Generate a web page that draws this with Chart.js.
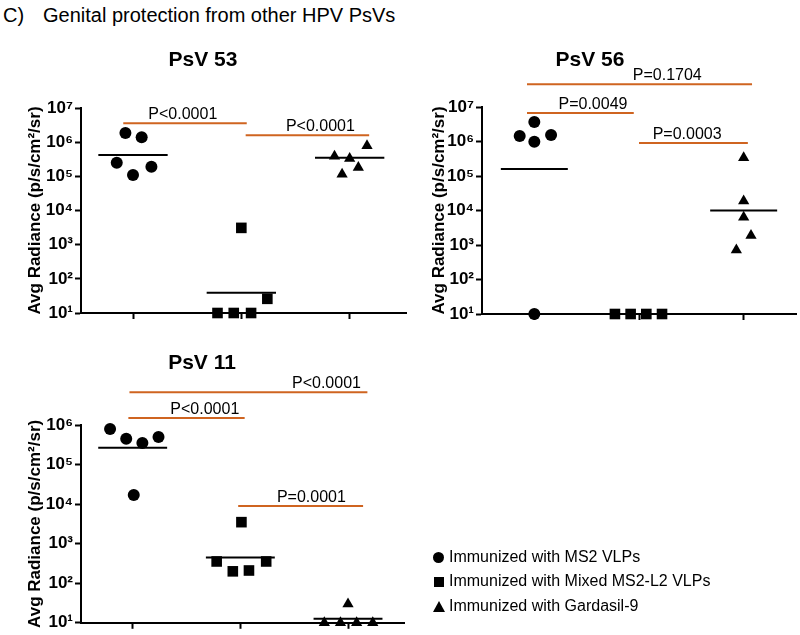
<!DOCTYPE html>
<html>
<head>
<meta charset="utf-8">
<script src="https://cdn.jsdelivr.net/npm/chart.js@4.4.0/dist/chart.umd.min.js"></script>
<style>
body { margin:0; width:800px; height:635px; background:#fff; position:relative; overflow:hidden;
       font-family:"Liberation Sans", Arial, Helvetica, sans-serif; color:#000; }
canvas { position:absolute; }
#head { position:absolute; left:3px; top:3px; font-size:20px; line-height:24px; white-space:nowrap; }
#head span { display:inline-block; width:40px; }
.leg { position:absolute; left:433px; font-size:16px; line-height:24px; white-space:nowrap; }
.mk { display:inline-block; vertical-align:middle; margin-right:5px; }
.mk.circle { width:11px; height:11px; border-radius:50%; background:#000; }
.mk.square { width:10px; height:10px; background:#000; margin-left:1px; }
.mk.triangle { width:0; height:0; border-left:6px solid transparent; border-right:6px solid transparent; border-bottom:11px solid #000; margin-right:4px; }
</style>
</head>
<body>
<div id="head"><span>C)</span>Genital protection from other HPV PsVs</div>

<canvas id="c53" width="460" height="300" style="left:0px;top:30px"></canvas>
<canvas id="c56" width="416" height="301" style="left:384px;top:30px"></canvas>
<canvas id="c11" width="446" height="305" style="left:0px;top:330px"></canvas>

<div class="leg" style="top:545px"><i class="mk circle"></i><b id="g0" style="font-weight:normal"></b></div>
<div class="leg" style="top:569px"><i class="mk square"></i><b id="g1" style="font-weight:normal"></b></div>
<div class="leg" style="top:594px"><i class="mk triangle"></i><b id="g2" style="font-weight:normal"></b></div>

<script>
/* groups (legend) */
var groups = ['Immunized with MS2 VLPs', 'Immunized with Mixed MS2-L2 VLPs', 'Immunized with Gardasil-9'];
var yTitle = 'Avg Radiance (p/s/cm\u00b2/sr)';
var yTicks7 = [1e1, 1e2, 1e3, 1e4, 1e5, 1e6, 1e7];
var yTicks6 = [1e1, 1e2, 1e3, 1e4, 1e5, 1e6];
var supDigits = ['\u2070', '\u00b9', '\u00b2', '\u00b3', '\u2074', '\u2075', '\u2076', '\u2077', '\u2078', '\u2079'];

/* PsV 53 */
var psv53Circles   = [1.85e6, 1.4e6, 2.5e5, 1.9e5, 1.1e5];
var psv53CirclesX  = [-0.07, 0.08, -0.15, 0.17, 0];
var psv53Squares   = [3.1e3, 10, 10, 10, 26];
var psv53SquaresX  = [0, -0.22, -0.07, 0.09, 0.24];
var psv53Triangles = [3.9e5, 3.3e5, 7.9e5, 1.15e5, 1.8e5];
var psv53TrianglesX= [-0.14, 0, 0.16, -0.07, 0.08];
var psv53Means     = [4.2e5, 39, 3.5e5];
var psv53BarY      = [3.6e6, 1.6e6];
var psv53BarFrom   = [-0.09, 1.04];
var psv53BarTo     = [1.05, 2.18];
var psv53PText     = ['P<0.0001', 'P<0.0001'];
var psv53PTextX    = [0.46, 1.73];

/* PsV 56 */
var psv56Circles   = [3.7e6, 1.45e6, 1.55e6, 9.8e5, 10];
var psv56CirclesX  = [0, -0.14, 0.16, 0, 0];
var psv56Squares   = [10, 10, 10, 10];
var psv56SquaresX  = [-0.23, -0.08, 0.07, 0.22];
var psv56Triangles = [3.4e5, 1.9e4, 6.4e3, 1.9e3, 7.2e2];
var psv56TrianglesX= [0, 0, 0, 0.07, -0.07];
var psv56Means     = [1.6e5, 10, 1.0e4];
var psv56BarY      = [4.6e7, 6.7e6, 9.1e5];
var psv56BarFrom   = [-0.07, -0.07, 1.0];
var psv56BarTo     = [2.08, 0.95, 2.04];
var psv56PText     = ['P=0.1704', 'P=0.0049', 'P=0.0003'];
var psv56PTextX    = [1.27, 0.56, 1.46];

/* PsV 11 */
var psv11Circles   = [7.9e5, 4.5e5, 3.5e5, 5.0e5, 1.7e4];
var psv11CirclesX  = [-0.21, -0.06, 0.09, 0.24, 0.01];
var psv11Squares   = [3.5e3, 3.55e2, 2.0e2, 2.1e2, 3.55e2];
var psv11SquaresX  = [0.01, -0.22, -0.07, 0.08, 0.24];
var psv11Triangles = [30, 10, 10, 10, 10];
var psv11TrianglesX= [0, -0.22, -0.07, 0.08, 0.23];
var psv11Means     = [2.66e5, 4.5e2, 12.6];
var psv11BarY      = [6.7e6, 1.5e6, 8.9e3];
var psv11BarFrom   = [-0.03, -0.04, 0.98];
var psv11BarTo     = [2.18, 1.04, 2.14];
var psv11PText     = ['P<0.0001', 'P<0.0001', 'P=0.0001'];
var psv11PTextX    = [1.80, 0.67, 1.66];

var FONT = '"Liberation Sans", Arial, Helvetica, sans-serif';
var ORANGE = '#cf6420';
var MEAN_HALF = 0.32;

document.getElementById('g0').textContent = groups[0];
document.getElementById('g1').textContent = groups[1];
document.getElementById('g2').textContent = groups[2];

// p-value texts above the orange bars
var pLabelPlugin = {
	id: 'pLabels',
	afterDatasetsDraw: function(chart, args, opts) {
		var ctx = chart.ctx;
		var xs = chart.scales.x, ys = chart.scales.y;
		ctx.save();
		ctx.font = '16px ' + FONT;
		ctx.fillStyle = '#000';
		ctx.textAlign = 'center';
		ctx.textBaseline = 'alphabetic';
		for (var i = 0; i < opts.text.length; i++) {
			ctx.fillText(opts.text[i], xs.getPixelForValue(opts.x[i]), ys.getPixelForValue(opts.y[i]) - 4);
		}
		ctx.restore();
	}
};

function pts(cat, xs, ys) {
	return ys.map(function(v, i) { return {x: cat + xs[i], y: v}; });
}

function makePanel(id, p, box) {
	var datasets = [];
	// orange significance bars
	for (var i = 0; i < p.barY.length; i++) {
		datasets.push({
			data: [{x: p.barFrom[i], y: p.barY[i]}, {x: p.barTo[i], y: p.barY[i]}],
			showLine: true, borderColor: ORANGE, borderWidth: 2, pointRadius: 0, clip: false
		});
	}
	// mean lines
	for (var k = 0; k < p.means.length; k++) {
		datasets.push({
			data: [{x: k - MEAN_HALF, y: p.means[k]}, {x: k + MEAN_HALF, y: p.means[k]}],
			showLine: true, borderColor: '#000', borderWidth: 2, pointRadius: 0, clip: false
		});
	}
	// individual animals
	datasets.push({ label: groups[0], data: pts(0, p.circX, p.circ), pointStyle: 'circle', pointRadius: 6,
		backgroundColor: '#000', borderWidth: 0, clip: false });
	datasets.push({ label: groups[1], data: pts(1, p.sqX, p.sq), pointStyle: 'rect', pointRadius: 7.5,
		backgroundColor: '#000', borderWidth: 0, clip: false });
	datasets.push({ label: groups[2], data: pts(2, p.triX, p.tri), pointStyle: 'triangle', pointRadius: 6.5,
		backgroundColor: '#000', borderWidth: 0, clip: false });

	return new Chart(document.getElementById(id), {
		type: 'scatter',
		data: { datasets: datasets },
		plugins: [pLabelPlugin],
		options: {
			animation: false, responsive: false, devicePixelRatio: 1,
			layout: { padding: { left: 0, right: box.padRight, top: 0, bottom: 0 }, autoPadding: false },
			plugins: {
				legend: { display: false },
				tooltip: { enabled: false },
				title: { display: true, text: p.title, color: '#000',
					font: { family: FONT, size: 21, weight: 'bold', lineHeight: 1.2 },
					padding: { top: box.titleTop, bottom: box.titleBottom } },
				pLabels: { text: p.pText, x: p.pTextX, y: p.barY }
			},
			scales: {
				x: {
					type: 'linear', min: box.xMin, max: box.xMax,
					afterBuildTicks: function(s) { s.ticks = [{value: 0}, {value: 1}, {value: 2}]; },
					ticks: { autoSkip: false, callback: function() { return ''; } },
					grid: { drawOnChartArea: false, drawTicks: true, tickLength: 6, tickColor: '#000', tickWidth: 2 },
					border: { color: '#000', width: 2 },
					afterFit: function(s) { s.height = box.xH; }
				},
				y: {
					type: 'logarithmic', min: 10, max: p.yTicks[p.yTicks.length - 1],
					afterBuildTicks: function(s) { s.ticks = p.yTicks.map(function(v) { return {value: v}; }); },
					ticks: {
						autoSkip: false, color: '#000', padding: 2,
						font: { family: FONT, size: 17, weight: 'bold' },
						callback: function(v) { return '10' + supDigits[Math.round(Math.log10(v))]; }
					},
					grid: { drawOnChartArea: false, drawTicks: true, tickLength: 6, tickColor: '#000', tickWidth: 2 },
					border: { color: '#000', width: 2 },
					title: { display: true, text: yTitle, color: '#000',
						font: { family: FONT, size: 17, weight: 'bold', lineHeight: 1.2 },
						padding: { top: box.yTitlePad, bottom: 0 } },
					afterFit: function(s) { s.width = box.yW; }
				}
			}
		}
	});
}

makePanel('c53', {
	title: 'PsV 53', yTicks: yTicks7,
	circ: psv53Circles, circX: psv53CirclesX, sq: psv53Squares, sqX: psv53SquaresX,
	tri: psv53Triangles, triX: psv53TrianglesX, means: psv53Means,
	barY: psv53BarY, barFrom: psv53BarFrom, barTo: psv53BarTo, pText: psv53PText, pTextX: psv53PTextX
}, { padRight: 54, titleTop: 17.4, titleBottom: 35.4, xH: 17, yW: 81, yTitlePad: 25, xMin: -0.48, xMax: 2.52 });

makePanel('c56', {
	title: 'PsV 56', yTicks: yTicks7,
	circ: psv56Circles, circX: psv56CirclesX, sq: psv56Squares, sqX: psv56SquaresX,
	tri: psv56Triangles, triX: psv56TrianglesX, means: psv56Means,
	barY: psv56BarY, barFrom: psv56BarFrom, barTo: psv56BarTo, pText: psv56PText, pTextX: psv56PTextX
}, { padRight: 4, titleTop: 17.4, titleBottom: 34.4, xH: 17, yW: 98, yTitlePad: 45, xMin: -0.5, xMax: 2.5 });

makePanel('c11', {
	title: 'PsV 11', yTicks: yTicks6,
	circ: psv11Circles, circX: psv11CirclesX, sq: psv11Squares, sqX: psv11SquaresX,
	tri: psv11Triangles, triX: psv11TrianglesX, means: psv11Means,
	barY: psv11BarY, barFrom: psv11BarFrom, barTo: psv11BarTo, pText: psv11PText, pTextX: psv11PTextX
}, { padRight: 42, titleTop: 20.4, titleBottom: 49.4, xH: 10, yW: 81, yTitlePad: 25, xMin: -0.48, xMax: 2.52 });
</script>
</body>
</html>
